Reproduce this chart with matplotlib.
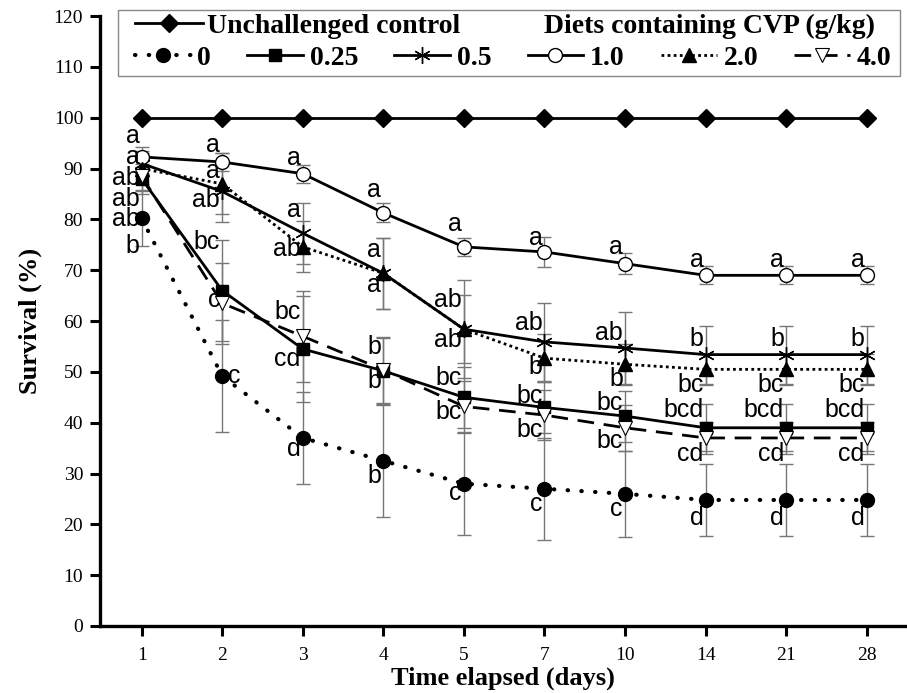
import numpy as np
import matplotlib
matplotlib.use("Agg")
import matplotlib.pyplot as plt
from matplotlib.lines import Line2D
from matplotlib.patches import Rectangle

# data
days = ["1", "2", "3", "4", "5", "7", "10", "14", "21", "28"]
control = [100, 100, 100, 100, 100, 100, 100, 100, 100, 100]

cvp_0 = [80.2, 49.2, 37.0, 32.5, 28.0, 27.0, 26.0, 24.8, 24.8, 24.8]
cvp_025 = [88.0, 66.0, 54.5, 50.2, 45.0, 43.0, 41.3, 39.0, 39.0, 39.0]
cvp_05 = [91.0, 85.5, 77.3, 69.4, 58.4, 55.9, 54.7, 53.4, 53.4, 53.4]
cvp_1 = [92.3, 91.3, 89.0, 81.3, 74.6, 73.6, 71.3, 69.0, 69.0, 69.0]
cvp_2 = [90.0, 87.0, 74.6, 69.4, 58.4, 52.7, 51.5, 50.5, 50.5, 50.5]
cvp_4 = [88.5, 63.5, 57.0, 50.4, 43.2, 41.5, 39.0, 37.0, 37.0, 37.0]

err_0 = [5.5, 11, 9, 11, 10, 10, 8.5, 7, 7, 7]
err_025 = [3, 10, 10.5, 6.5, 6, 5, 5, 4.6, 4.6, 4.6]
err_05 = [2.5, 6, 6, 7, 9.6, 7.6, 7, 5.7, 5.7, 5.7]
err_1 = [2, 1.8, 1.8, 1.9, 1.8, 3, 2, 1.8, 1.8, 1.8]
err_2 = [3, 6, 5, 7, 6.7, 4.7, 4, 3, 3, 3]
err_4 = [3, 8, 9, 6.5, 5, 5, 4.5, 3.2, 3.2, 3.2]

let_0 = ["b", "c", "d", "b", "c", "c", "c", "d", "d", "d"]
let_025 = ["ab", "bc", "cd", "b", "bc", "bc", "bc", "bcd", "bcd", "bcd"]
let_05 = ["a", "a", "a", "a", "ab", "ab", "ab", "b", "b", "b"]
let_1 = ["a", "a", "a", "a", "a", "a", "a", "a", "a", "a"]
let_2 = ["ab", "ab", "ab", "a", "ab", "b", "b", "bc", "bc", "bc"]
let_4 = ["ab", "c", "bc", "b", "bc", "bc", "bc", "cd", "cd", "cd"]

# vertical shift of the letters (survival units)
dy_0 = [-5.4, 0, -2.2, -3, -1.9, -3, -3, -3.6, -3.6, -3.6]
dy_025 = [-8.0, 9.5, -2, -2, 3.8, 2.3, 2.6, 3.5, 3.5, 3.5]
dy_05 = [1.3, 4, 4.5, 4.6, 5.7, 3.7, 2.9, 3, 3, 3]
dy_1 = [4.2, 3.4, 3.1, 4.4, 4.5, 2.7, 3.2, 3.1, 3.1, 3.1]
dy_2 = [-1.8, -3.2, -0.5, -2.3, -2.1, -1.7, -2.9, -3, -3, -3]
dy_4 = [-4.4, 0.6, 4.7, 4.5, -1.1, -2.9, -2.6, -3.2, -3.2, -3.2]

serif = "Liberation Serif"
sans = "Liberation Sans"

fig = plt.figure(figsize=(9.07, 6.93), dpi=100)
ax = fig.add_axes([0.110, 0.0967, 0.89, 0.880])
x = np.arange(1, len(days) + 1)

series = [
    (cvp_0, err_0, let_0, dy_0, dict(ls=(0, (0.1, 3.2)), marker="o", mfc="k", ms=10, lw=3, dash_capstyle="round")),
    (cvp_025, err_025, let_025, dy_025, dict(ls="-", marker="s", mfc="k", ms=8, lw=2)),
    (cvp_05, err_05, let_05, dy_05, dict(ls="-", marker=(6, 2, 0), ms=12, mew=1, lw=2)),
    (cvp_1, err_1, let_1, dy_1, dict(ls="-", marker="o", mfc="white", ms=10, mew=1, lw=2)),
    (cvp_2, err_2, let_2, dy_2, dict(ls=(0, (1, 1.2)), marker="^", mfc="k", ms=10, lw=2)),
    (cvp_4, err_4, let_4, dy_4, dict(ls=(0, (6, 3.5)), marker="v", mfc="white", ms=10, mew=0.8, lw=2)),
]

for vals, err, lets, dys, st in series:
    ax.errorbar(x, vals, yerr=err, fmt="none", ecolor="#777777", elinewidth=1,
                capsize=5, capthick=1, zorder=1)

ax.plot(x, control, color="k", marker="D", ms=9, lw=2, zorder=3)
handles = []
for vals, err, lets, dys, st in series:
    ln, = ax.plot(x, vals, color="k", mec="k", zorder=3, **st)
    handles.append(ln)
    for i in range(len(x)):
        if lets is let_0 and i == 1:
            ax.annotate(lets[i], (x[i], vals[i] + dys[i]), xytext=(4, 0),
                        textcoords="offset points", ha="left", va="center",
                        fontsize=18, family=sans, zorder=4)
        else:
            ax.annotate(lets[i], (x[i], vals[i] + dys[i]), xytext=(-1.5, 0),
                        textcoords="offset points", ha="right", va="center",
                        fontsize=18, family=sans, zorder=4)

ax.set_xlim(0.48, 10.5)
ax.set_ylim(0, 120)
ax.set_yticks(np.arange(0, 121, 10))
ax.set_xticks(x)
ax.set_xticklabels(days)
for lab in ax.get_xticklabels() + ax.get_yticklabels():
    lab.set_family(serif)
    lab.set_fontsize(14)
ax.tick_params(direction="out", length=7, width=2.2, pad=5)
ax.tick_params(axis="x", pad=8)
for s in ["top", "right"]:
    ax.spines[s].set_visible(False)
for s in ["left", "bottom"]:
    ax.spines[s].set_linewidth(2.4)
ax.spines["bottom"].set_zorder(5)

ax.set_xlabel("Time elapsed (days)", family=serif, fontsize=19, fontweight="bold", labelpad=2)
ax.set_ylabel("Survival (%)", family=serif, fontsize=19, fontweight="bold", labelpad=8)

# legend box
fig.patches.append(Rectangle((118 / 907, 1 - 76 / 693), 782 / 907, 66 / 693,
                             transform=fig.transFigure, fill=True, fc="white",
                             ec="#888888", lw=1, zorder=10))
lg_font = dict(family=serif, weight="bold", size=20)
ctrl_h = Line2D([], [], color="k", marker="D", ms=9, lw=2)
leg1 = fig.legend([ctrl_h], ["Unchallenged control"], loc="center left",
                  bbox_to_anchor=(135 / 907, 1 - 26 / 693), frameon=False,
                  prop=lg_font, handlelength=2.45, handletextpad=0.15,
                  borderpad=0, borderaxespad=0)
leg1.set_zorder(11)
fig.text(544 / 907, 1 - 26 / 693, "Diets containing CVP (g/kg)", ha="left",
         va="center", zorder=11, family=serif, weight="bold", size=20)
leg2 = fig.legend(handles, ["0", "0.25", "0.5", "1.0", "2.0", "4.0"], loc="center left",
                  bbox_to_anchor=(135 / 907, 1 - 58 / 693), frameon=False, ncol=6,
                  prop=lg_font, handlelength=2.0, handletextpad=0.25,
                  columnspacing=1.3, borderpad=0, borderaxespad=0, numpoints=1)
leg2.set_zorder(11)

fig.savefig("out.png", dpi=100)
